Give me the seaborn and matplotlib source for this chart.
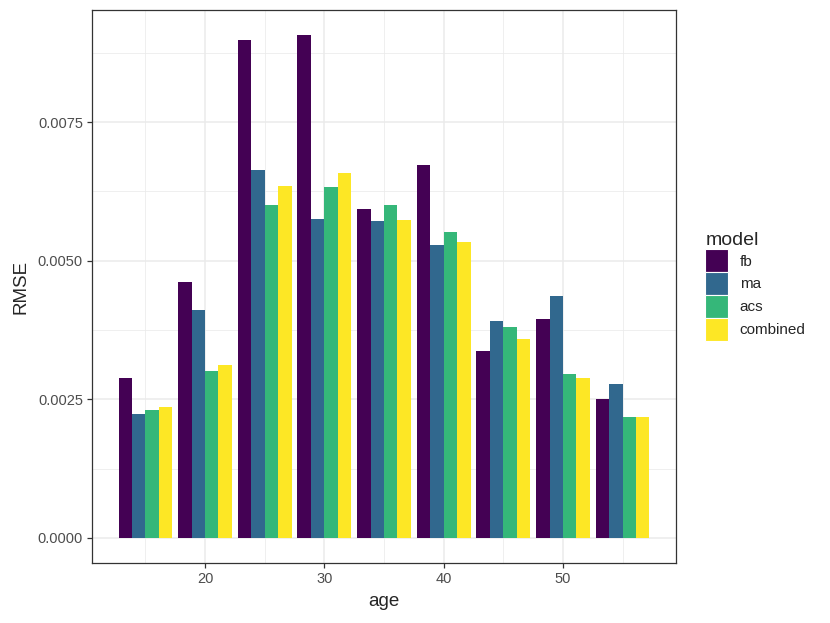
import numpy as np
import pandas as pd
import matplotlib
matplotlib.use("Agg")
import matplotlib.pyplot as plt
import seaborn as sns
from matplotlib.ticker import MultipleLocator

# values
ages = [15, 20, 25, 30, 35, 40, 45, 50, 55]
models = ["fb", "ma", "acs", "combined"]
fb = [0.00289, 0.00461, 0.00899, 0.00907, 0.00594, 0.00672, 0.00337, 0.00394, 0.00251]
ma = [0.00223, 0.00411, 0.00664, 0.00575, 0.00572, 0.00529, 0.00391, 0.00436, 0.00277]
acs = [0.00230, 0.00301, 0.00601, 0.00633, 0.00601, 0.00551, 0.00380, 0.00296, 0.00218]
combined = [0.00236, 0.00311, 0.00634, 0.00658, 0.00573, 0.00534, 0.00359, 0.00289, 0.00218]
colors = ["#440154", "#31688E", "#35B779", "#FDE725"]

df = pd.DataFrame({
    "age": ages * 4,
    "RMSE": fb + ma + acs + combined,
    "model": [m for m in models for _ in ages],
})

sns.set_style("white")
plt.rcParams["font.family"] = ["Liberation Sans", "DejaVu Sans"]

fig = plt.figure(figsize=(8.3, 6.23), dpi=100)
ax = fig.add_axes([0.1108, 0.0963, 0.7037, 0.8877])

sns.barplot(data=df, x="age", y="RMSE", hue="model", hue_order=models,
            palette=colors, native_scale=True, width=0.9, gap=0,
            linewidth=0, saturation=1, errorbar=None, ax=ax, zorder=3)

ax.set_xlim(10.525, 59.475)
ax.set_ylim(-0.0004535, 0.0095235)
ax.xaxis.set_major_locator(MultipleLocator(10))
ax.xaxis.set_minor_locator(MultipleLocator(5))
ax.yaxis.set_major_locator(MultipleLocator(0.0025))
ax.yaxis.set_minor_locator(MultipleLocator(0.00125))
ax.set_xticks([20, 30, 40, 50])
ax.set_xticklabels(["20", "30", "40", "50"])
ax.set_yticks([0, 0.0025, 0.005, 0.0075])
ax.set_yticklabels(["0.0000", "0.0025", "0.0050", "0.0075"])

ax.grid(True, which="major", color="#EBEBEB", linewidth=1.1, zorder=0)
ax.grid(True, which="minor", color="#EBEBEB", linewidth=0.55, zorder=0)
ax.set_axisbelow(True)
for s in ax.spines.values():
    s.set_color("#333333")
    s.set_linewidth(0.9)
ax.tick_params(which="major", length=3.5, width=0.9, color="#333333",
               labelsize=10.5, labelcolor="#4D4D4D", pad=3, bottom=True, left=True)
ax.tick_params(which="minor", length=0)
ax.set_xlabel("age", fontsize=13.5, labelpad=5)
ax.set_ylabel("RMSE", fontsize=13.5, labelpad=6)

handles = [plt.Rectangle((0, 0), 1, 1, facecolor=c, edgecolor="white", linewidth=0.8)
           for c in colors]
ax.legend(handles, models, title="model", loc="center left",
          bbox_to_anchor=(1.05, 0.5), frameon=False, fontsize=11,
          title_fontsize=14, handlelength=1.5, handleheight=1.93,
          labelspacing=0.0, handletextpad=0.75, alignment="left", borderaxespad=0,
          borderpad=0)

fig.savefig("out.png", dpi=100)
